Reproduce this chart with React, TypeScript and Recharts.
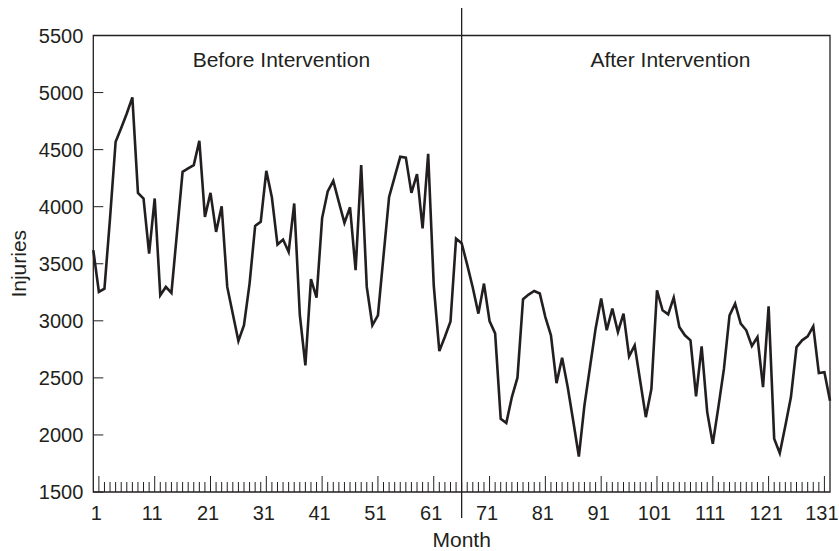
import React from 'react';
import { LineChart, Line, XAxis, YAxis, ReferenceArea, ReferenceLine, ReferenceDot } from 'recharts';

// Monthly injuries, months 0..132
const injuries = [
  3619, 3253, 3282, 3900, 4569, 4690, 4817, 4958, 4121, 4072,
  3589, 4072, 3224, 3297, 3244, 3775, 4305, 4335, 4364, 4577,
  3911, 4121, 3779, 4004, 3297, 3060, 2823, 2961, 3326, 3832,
  3867, 4314, 4080, 3668, 3712, 3604, 4028, 3055, 2610, 3365,
  3203, 3900, 4133, 4226, 4040, 3858, 3995, 3443, 4364, 3297,
  2961, 3048, 3570, 4086, 4261, 4437, 4430, 4121, 4285, 3809,
  4464, 3311, 2735, 2860, 2994, 3721, 3680, 3490, 3290, 3063,
  3326, 2998, 2890, 2142, 2104, 2332, 2502, 3189, 3230, 3261,
  3239, 3033, 2873, 2454, 2677, 2420, 2120, 1811, 2259, 2595,
  2931, 3195, 2917, 3107, 2902, 3063, 2689, 2785, 2470, 2156,
  2405, 3268, 3092, 3057, 3203, 2946, 2873, 2829, 2338, 2776,
  2200, 1923, 2244, 2581, 3048, 3151, 2975, 2917, 2779, 2858,
  2419, 3127, 1966, 1840, 2080, 2332, 2770, 2829, 2864, 2952,
  2542, 2550, 2300,
];
const months = injuries.map((_, i) => i);
const yTicks = [1500, 2000, 2500, 3000, 3500, 4000, 4500, 5000, 5500];
const xLabelTicks = [1, 11, 21, 31, 41, 51, 61, 71, 81, 91, 101, 111, 121, 131];
const xMinorTicks = months.filter((m) => m >= 1 && m <= 131);
const interventionMonth = 66;
const phaseLabels = ['Before Intervention', 'After Intervention'];
const phaseLabelMonths = [33.7, 103.4];
const xTitle = 'Month';
const yTitle = 'Injuries';

const data = months.map((m, i) => ({ month: m, injuries: injuries[i] }));

const INK = '#231f20';
const FONT = '"Liberation Sans", Arial, Helvetica, sans-serif';
const FS = 21;
const TFS = 20;

const XTick = (props: any) => {
  const { x, y, payload } = props;
  const v = payload.value;
  const major = xLabelTicks.includes(v);
  return (
    <g>
      <line x1={x} x2={x} y1={y} y2={y - (major ? 16 : 10)} stroke={INK} strokeWidth={1} />
      {major && (
        <text x={x - 2.5} y={y + 28} textAnchor="middle" fontSize={TFS} fontFamily={FONT} fill={INK}>
          {v}
        </text>
      )}
    </g>
  );
};

const YTick = (props: any) => {
  const { x, y, payload } = props;
  return (
    <g>
      <line x1={x} x2={x + 10} y1={y} y2={y} stroke={INK} strokeWidth={1} />
      <text x={x - 10} y={y + 7.2} textAnchor="end" fontSize={TFS} fontFamily={FONT} fill={INK}>
        {payload.value}
      </text>
    </g>
  );
};

const Divider = (p: any) => {
  const top = Math.min(p.y1, p.y2);
  const bot = Math.max(p.y1, p.y2);
  return <line x1={p.x1} x2={p.x2} y1={top - 27.5} y2={bot + 26} stroke={INK} strokeWidth={1.3} />;
};

const phaseLabel = (text: string) => (p: any) => {
  const vb = p.viewBox || {};
  const cx = (vb.x ?? 0) + (vb.width ?? 0) / 2;
  const cy = (vb.y ?? 0) + (vb.height ?? 0) / 2;
  return (
    <text x={cx} y={cy + 31} textAnchor="middle" fontSize={FS} fontFamily={FONT} fill={INK}>
      {text}
    </text>
  );
};

const YTitle = (p: any) => {
  const vb = p.viewBox || {};
  const cx = (vb.x ?? 0) + (vb.width ?? 0) - 75;
  const cy = (vb.y ?? 0) + (vb.height ?? 0) / 2;
  return (
    <text
      transform={`translate(${cx}, ${cy}) rotate(-90)`}
      textAnchor="middle"
      dominantBaseline="central"
      fontSize={FS}
      fontFamily={FONT}
      fill={INK}
    >
      {yTitle}
    </text>
  );
};

const XTitle = (p: any) => {
  const vb = p.viewBox || {};
  const cx = (vb.x ?? 0) + (vb.width ?? 0) / 2;
  const y = (vb.y ?? 0) + 55;
  return (
    <text x={cx} y={y} textAnchor="middle" fontSize={FS} fontFamily={FONT} fill={INK}>
      {xTitle}
    </text>
  );
};

export default function App() {
  return (
    <div style={{ width: 839, height: 551, background: '#fff', fontFamily: FONT }}>
      <style>{'body{margin:0;background:#fff;}'}</style>
      <LineChart
        width={839}
        height={551}
        data={data}
        margin={{ top: 35.5, right: 9, bottom: 0, left: 0 }}
      >
        <XAxis
          dataKey="month"
          type="number"
          domain={[0, 132]}
          ticks={xMinorTicks}
          interval={0}
          height={59}
          tickSize={0}
          tickMargin={0}
          tickLine={false}
          axisLine={false}
          tick={XTick}
          label={{ content: XTitle }}
        />
        <YAxis
          type="number"
          domain={[1500, 5500]}
          ticks={yTicks}
          interval={0}
          width={93.3}
          tickSize={0}
          tickMargin={0}
          tickLine={false}
          axisLine={false}
          tick={YTick}
          label={{ content: YTitle }}
        />
        <ReferenceArea
          x1={0}
          x2={132}
          y1={1500}
          y2={5500}
          fill="none"
          fillOpacity={0}
          stroke={INK}
          strokeWidth={1.3}
        />
        <ReferenceLine x={interventionMonth} stroke={INK} strokeWidth={1.3} shape={Divider} ifOverflow="visible" />
        {phaseLabels.map((t, i) => (
          <ReferenceDot
            key={t}
            x={phaseLabelMonths[i]}
            y={5500}
            r={0}
            fill="none"
            stroke="none"
            label={{ content: phaseLabel(t) }}
          />
        ))}
        <Line
          type="linear"
          dataKey="injuries"
          stroke={INK}
          strokeWidth={2.6}
          dot={false}
          activeDot={false}
          isAnimationActive={false}
        />
      </LineChart>
    </div>
  );
}
